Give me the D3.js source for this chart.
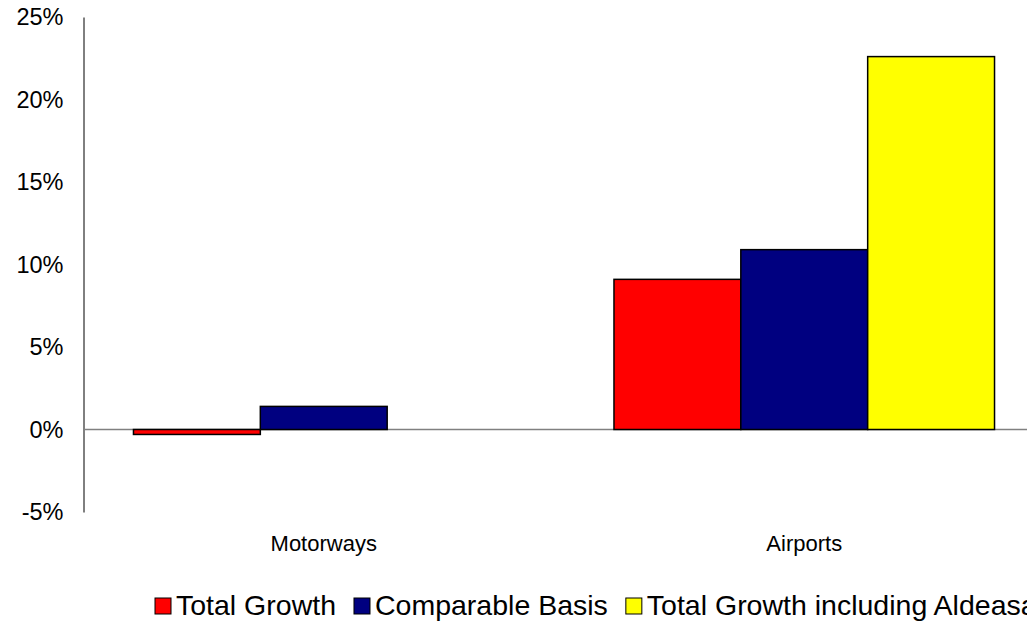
<!DOCTYPE html>
<html><head><meta charset="utf-8">
<script src="https://cdn.jsdelivr.net/npm/d3@7"></script>
<style>body{margin:0;background:#fff;overflow:hidden}svg{display:block}text{font-family:"Liberation Sans",Arial,sans-serif;fill:#000}</style>
</head><body>
<script>
const categories = ["Motorways", "Airports"];
const seriesNames = ["Total Growth", "Comparable Basis", "Total Growth including Aldeasa"];
const seriesColors = ["#ff0000", "#000080", "#ffff00"];
const totalGrowth = [-0.3, 9.1];
const comparableBasis = [1.4, 10.9];
const totalGrowthAldeasa = [null, 22.6];
const yTicks = [-5, 0, 5, 10, 15, 20, 25];

const W = 1027, H = 621;
const svg = d3.select("body").append("svg").attr("width", W).attr("height", H);
const left = 83.5, plotRight = 1044.5;
const y = d3.scaleLinear().domain([-5, 25]).range([512, 17]);
const x0 = d3.scaleBand().domain(categories).range([left, plotRight]).paddingInner(0.208).paddingOuter(0.104);
const x1 = d3.scaleBand().domain(seriesNames).range([0, x0.bandwidth()]);

const series = [totalGrowth, comparableBasis, totalGrowthAldeasa];

// y axis
const yAxis = d3.axisLeft(y).tickValues(yTicks).tickSize(0).tickPadding(20).tickFormat(d => d + "%");
const ga = svg.append("g").attr("transform", `translate(${left},0)`).call(yAxis);
ga.select(".domain").attr("stroke", "#000").attr("stroke-width", 1);
ga.selectAll("text").style("font-size", "23.5px").style("font-family", '"Liberation Sans",Arial,sans-serif');

// zero line
svg.append("line").attr("x1", left).attr("x2", W).attr("y1", y(0)).attr("y2", y(0)).attr("stroke", "#808080").attr("stroke-width", 1.5);

// bars
categories.forEach((c, ci) => {
  series.forEach((s, si) => {
    const v = s[ci];
    if (v === null) return;
    svg.append("rect")
      .attr("x", x0(c) + x1(seriesNames[si]))
      .attr("width", x1.bandwidth())
      .attr("y", y(Math.max(0, v)))
      .attr("height", Math.abs(y(v) - y(0)))
      .attr("fill", seriesColors[si]).attr("stroke", "#000").attr("stroke-width", 1.5);
  });
});

// category labels
svg.selectAll(".cat").data(categories).enter().append("text")
  .attr("x", d => x0(d) + x0.bandwidth() / 2).attr("y", 551)
  .attr("text-anchor", "middle").style("font-size", "22px").text(d => d);

// legend
const lg = svg.append("g").attr("transform", "translate(155,615)");
let lx = 0;
seriesNames.forEach((n, i) => {
  lg.append("rect").attr("x", lx).attr("y", -17).attr("width", 16).attr("height", 16)
    .attr("fill", seriesColors[i]).attr("stroke", "#000").attr("stroke-width", 1);
  const t = lg.append("text").attr("x", lx + 21).attr("y", 0).style("font-size", "28.5px").text(n);
  lx += 21 + t.node().getComputedTextLength() + 18;
});
</script>
</body></html>
